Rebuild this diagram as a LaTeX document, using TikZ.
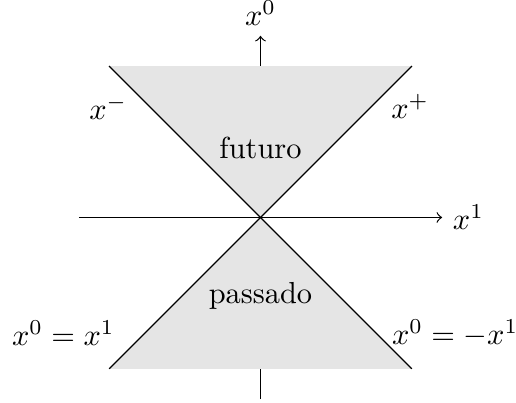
\documentclass[tikz,border=0pt]{standalone}
\begin{document}
\begin{tikzpicture}
\tikzset{conefill/.style={fill=gray!20, draw=none}, coneline/.style={draw=black, line width=0.4pt}, axis/.style={draw=black, line width=0.4pt}}
\useasboundingbox (-3.012,-2.145) rectangle (2.954,2.514);
\coordinate (O) at (0,0);
\coordinate (xl) at (-2.1,0);
\coordinate (xr) at (2.1,0);
\coordinate (yb) at (0,-2.1);
\coordinate (yt) at (0,2.1);
\coordinate (tl) at (-1.75,1.75);
\coordinate (tr) at (1.75,1.75);
\coordinate (bl) at (-1.75,-1.75);
\coordinate (br) at (1.75,-1.75);
\draw[axis,->] (xl) -- (xr);
\draw[axis,->] (yb) -- (yt);
\fill[conefill] (tl) -- (tr) -- (O) -- cycle;
\fill[conefill] (bl) -- (br) -- (O) -- cycle;
\draw[coneline] (tl) -- (br);
\draw[coneline] (tr) -- (bl);
\node[above] (lx0) at (yt) {$x^0$};
\node[right] (lx1) at (xr) {$x^1$};
\node (lxm) at (-1.76,1.27) {$x^-$};
\node (lxp) at (1.73,1.28) {$x^+$};
\node (fut) at (0,0.80) {futuro};
\node (pas) at (0,-0.91) {passado};
\node (l1) at (-2.28,-1.34) {$x^0=x^1$};
\node (l2) at (2.25,-1.34) {$x^0=-x^1$};
\end{tikzpicture}
\end{document}
